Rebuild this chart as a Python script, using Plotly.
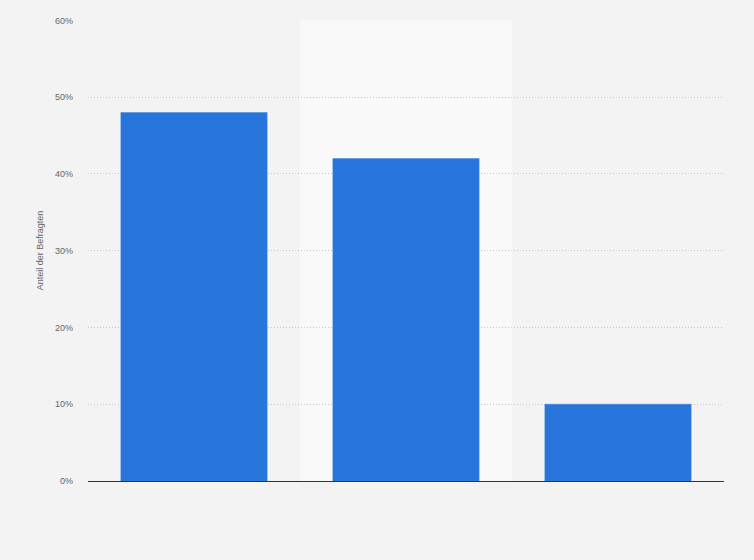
import plotly.graph_objects as go

categories = ["A", "B", "C"]
values = [48, 42, 10]
tick_vals = [0, 10, 20, 30, 40, 50, 60]
tick_text = ["0%", "10%", "20%", "30%", "40%", "50%", "60%"]

fig = go.Figure()
fig.add_trace(go.Bar(
    x=categories, y=values,
    marker=dict(color="#2775db", line=dict(color="#3d86e0", width=0.5)),
    width=0.69,
    hoverinfo="y",
))

fig.add_shape(type="rect", xref="x", yref="paper", x0=0.5, x1=1.5, y0=0, y1=1,
              fillcolor="#f9f9f9", line=dict(width=0), layer="below")

fig.update_layout(
    width=754, height=560,
    margin=dict(l=88, r=30, t=20, b=79),
    paper_bgcolor="#f3f3f3",
    plot_bgcolor="#f3f3f3",
    showlegend=False,
    font=dict(family="Liberation Sans, Arial, sans-serif", color="#666666", size=9),
    bargap=0.31,
)
fig.update_xaxes(showticklabels=False, showgrid=False, zeroline=False,
                 showline=True, linecolor="#333333", linewidth=1, ticks="")
fig.update_yaxes(range=[0, 60.05], tickvals=tick_vals, ticktext=tick_text,
                 showgrid=True, gridcolor="#c8c8c8", griddash="1px,2px", gridwidth=1,
                 zeroline=False, ticks="", ticklabelstandoff=14,
                 title=dict(text="Anteil der Befragten", font=dict(size=9, color="#666666"), standoff=9),
                 tickfont=dict(size=9, color="#666666"))
fig.write_html("out.html", config={"displayModeBar": False},
               post_script="document.body.style.margin='0px';document.body.style.background='#f3f3f3';")
